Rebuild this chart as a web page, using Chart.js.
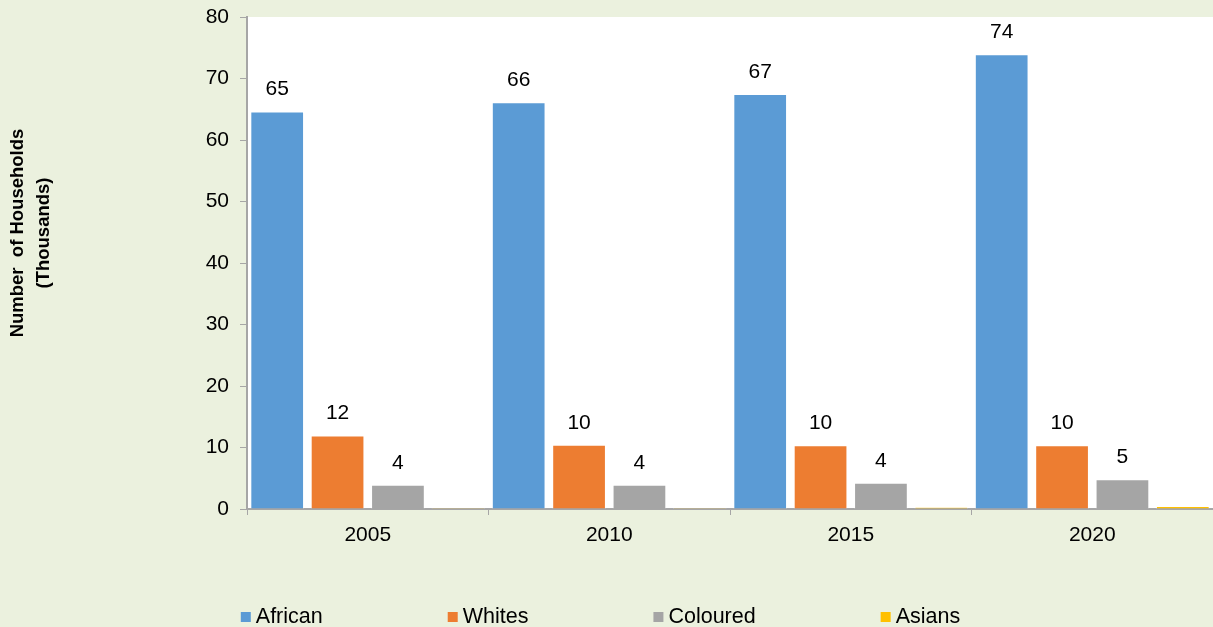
<!DOCTYPE html>
<html>
<head>
<meta charset="utf-8">
<script src="https://cdn.jsdelivr.net/npm/chart.js@4"></script>
<style>
  html, body { margin: 0; padding: 0; background: #EBF1DE; }
  #wrap { width: 1213px; height: 627px; }
</style>
</head>
<body>
<div id="wrap"><canvas id="hh"></canvas></div>
<script>
var years = ['2005', '2010', '2015', '2020'];
var african = [64.65, 66.15, 67.49, 73.95];
var whites = [11.95, 10.45, 10.35, 10.35];
var coloured = [3.95, 3.95, 4.25, 4.85];
var asians = [0.15, 0.2, 0.3, 0.5];
var yTicks = [0, 10, 20, 30, 40, 50, 60, 70, 80];
var yTitle = ['Number  of Households', '(Thousands)'];

var FONT = "'Liberation Sans', Arial, sans-serif";

// background + white plot area
var bgPlugin = {
    id: 'bg',
    beforeDraw: function(chart) {
        var c = chart.ctx, a = chart.chartArea;
        c.save();
        c.fillStyle = '#EBF1DE';
        c.fillRect(0, 0, chart.width, chart.height);
        c.fillStyle = '#ffffff';
        c.fillRect(a.left, a.top, a.right - a.left, a.bottom - a.top);
        c.restore();
    }
};

// value labels above bars (Asians have none)
var labelPlugin = {
    id: 'vals',
    afterDatasetsDraw: function(chart) {
        var c = chart.ctx;
        c.save();
        c.font = '21px ' + FONT;
        c.fillStyle = '#000';
        c.textAlign = 'center';
        c.textBaseline = 'middle';
        chart.data.datasets.forEach(function(ds, i) {
            if (ds.label === 'Asians') return;
            chart.getDatasetMeta(i).data.forEach(function(bar, j) {
                c.fillText(Math.round(ds.data[j]), bar.x, bar.y - 22);
            });
        });
        c.restore();
    }
};

// y title and legend
var textPlugin = {
    id: 'texts',
    afterDraw: function(chart) {
        var c = chart.ctx;
        c.save();
        c.fillStyle = '#000';
        c.font = 'bold 18.5px ' + FONT;
        c.textAlign = 'center';
        c.textBaseline = 'middle';
        c.translate(31, 233);
        c.rotate(-Math.PI / 2);
        c.fillText(yTitle[0], 0, -13);
        c.fillText(yTitle[1], 0, 13);
        c.restore();

        // legend row
        c.save();
        c.font = '21.5px ' + FONT;
        c.textBaseline = 'middle';
        var items = chart.data.datasets;
        var box = 10, gap = 5, spacing = 125;
        var widths = items.map(function(d) { return box + gap + c.measureText(d.label).width; });
        var total = widths.reduce(function(s, w) { return s + w; }, 0) + spacing * (items.length - 1);
        var x = (chart.width - total) / 2 - 6, y = 617;
        items.forEach(function(d, i) {
            c.fillStyle = d.backgroundColor;
            c.fillRect(x, y - box / 2, box, box);
            c.fillStyle = '#000';
            c.fillText(d.label, x + box + gap, y);
            x += widths[i] + spacing;
        });
        c.restore();
    }
};

var ctx = document.getElementById('hh').getContext('2d');
var hhChart = new Chart(ctx, {
    type: 'bar',
    data: {
        labels: years,
        datasets: [
            { label: 'African', data: african, backgroundColor: '#5B9BD5' },
            { label: 'Whites', data: whites, backgroundColor: '#ED7D31' },
            { label: 'Coloured', data: coloured, backgroundColor: '#A5A5A5' },
            { label: 'Asians', data: asians, backgroundColor: '#FFC000' }
        ]
    },
    options: {
        responsive: true,
        maintainAspectRatio: false,
        animation: false,
        layout: { padding: { top: 17, right: 0, bottom: 0, left: 0 } },
        datasets: {
            bar: {
                categoryPercentage: 1.0,
                barPercentage: 0.89,
                borderWidth: 1,
                borderColor: 'rgba(255,255,255,0.6)'
            }
        },
        plugins: {
            legend: { display: false },
            tooltip: { enabled: false }
        },
        scales: {
            x: {
                grid: {
                    drawOnChartArea: false,
                    tickLength: 6,
                    color: '#A6A6A6'
                },
                border: { color: '#A6A6A6', width: 2 },
                ticks: {
                    padding: 8,
                    color: '#000',
                    font: { size: 21, family: FONT }
                },
                afterFit: function(scale) {
                    scale.height = 118;
                    scale.paddingLeft = 0;
                    scale.paddingRight = 0;
                }
            },
            y: {
                min: 0,
                max: 80,
                afterBuildTicks: function(scale) {
                    scale.ticks = yTicks.map(function(v) { return { value: v }; });
                },
                grid: {
                    drawOnChartArea: false,
                    tickLength: 7,
                    color: '#A6A6A6'
                },
                border: { color: '#A6A6A6', width: 2 },
                ticks: {
                    padding: 11,
                    color: '#000',
                    font: { size: 21, family: FONT }
                },
                afterFit: function(scale) {
                    scale.width = 247;
                    scale.paddingTop = 0;
                    scale.paddingBottom = 0;
                }
            }
        }
    },
    plugins: [bgPlugin, labelPlugin, textPlugin]
});
</script>
</body>
</html>
